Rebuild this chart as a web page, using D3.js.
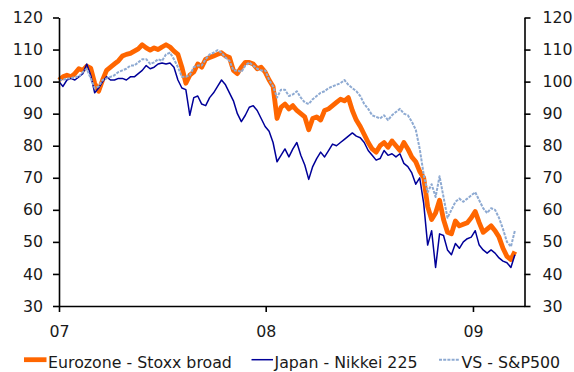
<!DOCTYPE html>
<html>
<head>
<meta charset="utf-8">
<script src="https://cdn.jsdelivr.net/npm/d3@7"></script>
<style>
  html, body { margin: 0; padding: 0; background: #fff; }
  svg { display: block; }
  text { font-family: "DejaVu Sans", Verdana, sans-serif; fill: #1a1a1a; }
</style>
</head>
<body>
<svg id="chart" width="574" height="372"></svg>
<script>
// Weekly index levels, first week of 2007 = 100
const firstWeek = new Date(2007, 0, 1);

const eurozone = [
  100.5, 101.5, 102, 101.5, 102.5, 104, 103.5, 104.8, 104.2, 99.5,
  97, 100.5, 103.5, 104.5, 105.5, 106.5, 108, 108.5, 108.8, 109.5,
  110.2, 111.5, 110.5, 109.8, 110.5, 110, 110.8, 111.5, 110.8, 109.5,
  108.5, 104.5, 99.5, 102, 103, 105.5, 104.5, 107, 107.5, 108,
  108.5, 109, 108, 107.5, 103.5, 102.5, 104.5, 106, 106, 105.5,
  104, 104.5, 103, 100.5, 98.5, 88.5, 92, 93, 91.5, 92.5,
  91, 90, 89, 85, 88.5, 89, 88, 91, 91.5, 92.5,
  93.5, 94.5, 94, 95, 91, 88, 86, 83.5, 81, 79,
  78, 80, 81, 79.5, 81.5, 80, 78.5, 81, 79, 76.5,
  75, 72, 70, 61, 57, 59, 63, 57, 53, 52.5,
  56.5, 55, 55.5, 56, 57.5, 59.5, 56, 53, 54, 55,
  53.5, 51.5, 48, 45.5, 44.5, 47
];

const japan = [
  100, 98.5, 100.5, 101, 100.5, 101.5, 102.5, 105.5, 102, 96.5,
  98, 100, 101.5, 100.5, 100.5, 101, 101, 100.5, 101.5, 101.5,
  102.5, 103.5, 105, 104, 104.5, 105.5, 105.8, 105.5, 105.8, 104.5,
  100.5, 98, 97.5, 89.5, 95, 95.5, 93, 92.5, 95, 96.5,
  98.5, 100.5, 99, 96.5, 94, 90, 87.5, 89.5, 92, 92.5,
  91, 88.5, 86, 84.5, 81, 75, 77, 79, 76.5, 79,
  81, 77, 74, 69.5, 73.5, 76, 78, 76.5, 78.5, 80.5,
  80, 81, 82, 83, 84, 83, 82.5, 81, 78.5, 77,
  75.5, 76, 78.5, 77, 77.5, 76.5, 77.5, 74.5, 73.5, 71.5,
  68, 70, 62, 49, 53.5, 42, 52.5, 52, 47.5, 46,
  49.5, 48, 50, 51, 51.5, 53.5, 49, 47.5, 46.5, 47.5,
  46.5, 45, 44, 43.5, 42, 46
];

const sp500 = [
  100.5, 100.5, 101, 101, 101.5, 101.5, 103, 104, 101, 98,
  98.5, 100.5, 101, 101.5, 102, 103, 103.5, 104, 105, 105,
  106, 107, 107, 105.5, 106, 107, 106.5, 108.5, 109, 107,
  104.5, 101.5, 101.5, 102, 104.5, 105, 105, 107, 108.5, 109,
  109.8, 109, 107.5, 106.5, 103.5, 103.5, 103, 105, 106, 105,
  104, 103.5, 103.5, 100.5, 98.5, 95, 97.5, 97.5, 95.5, 96,
  97, 95, 93.5, 93, 94.5, 95.5, 96.5, 97, 98, 98.5,
  99, 99.5, 100.5, 99, 98, 97, 95.5, 93, 91.5, 89.5,
  89, 88.5, 89.5, 88, 89.5, 90.5, 91.5, 90, 89.5, 87.5,
  85, 79, 71, 65.5, 68, 64, 70.5, 64, 57.5, 60,
  62.5, 63.5, 62.5, 63.5, 64.5, 65.5, 63, 60.5, 59, 60.5,
  60, 57.5, 54, 50, 48.5, 53.5
];

const seriesNames = ["Eurozone - Stoxx broad", "Japan - Nikkei 225", "VS - S&P500"];
const yTicks = [30, 40, 50, 60, 70, 80, 90, 100, 110, 120];
const xTickDates = [new Date(2007, 0, 1), new Date(2008, 0, 1), new Date(2009, 0, 1)];
const xTickLabels = ["07", "08", "09"];

const weeks = eurozone.map((_, i) => d3.timeDay.offset(firstWeek, 7 * i));

const svg = d3.select("#chart");
const plot = { left: 59, right: 524.5, top: 17.5, bottom: 306 };

const x = d3.scaleTime()
  .domain([new Date(2007, 0, 1), new Date(2009, 3, 2)])
  .range([plot.left, plot.right]);
const y = d3.scaleLinear().domain([30, 120]).range([plot.bottom, plot.top]);

const styles = [
  { color: "#ff6600", width: 4.8, dash: null },
  { color: "#000099", width: 1.5, dash: null },
  { color: "#8eaad2", width: 2, dash: "3,1.2" }
];
const allSeries = [eurozone, japan, sp500];

const line = d3.line()
  .x((d, i) => x(weeks[i]))
  .y(d => y(d))
  .curve(d3.curveLinear);

allSeries.forEach((vals, k) => {
  svg.append("path")
    .datum(vals)
    .attr("fill", "none")
    .attr("stroke", styles[k].color)
    .attr("stroke-width", styles[k].width)
    .attr("stroke-linejoin", "round")
    .attr("stroke-dasharray", styles[k].dash)
    .attr("d", line);
});

// Axes
const fontSize = "15.8px";
const leftAxis = d3.axisLeft(y).tickValues(yTicks).tickSize(6).tickPadding(10);
const rightAxis = d3.axisRight(y).tickValues(yTicks).tickSize(6).tickPadding(12);
const bottomAxis = d3.axisBottom(x).tickValues(xTickDates).tickSize(6)
  .tickFormat((d, i) => xTickLabels[i]).tickPadding(14);

function styleAxis(g) {
  g.select(".domain").attr("stroke", "#000").attr("stroke-width", 1.6);
  g.selectAll(".tick line").attr("stroke", "#000").attr("stroke-width", 1.6);
  g.selectAll("text").attr("font-size", fontSize)
    .attr("font-family", "DejaVu Sans, Verdana, sans-serif").attr("fill", "#1a1a1a");
}

svg.append("g").attr("transform", `translate(${plot.left},0)`)
  .call(leftAxis.tickSizeOuter(0)).call(styleAxis);
svg.append("g").attr("transform", `translate(${plot.right},0)`)
  .call(rightAxis.tickSizeOuter(0)).call(styleAxis);
svg.append("g").attr("transform", `translate(0,${plot.bottom})`)
  .call(bottomAxis.tickSizeOuter(0)).call(styleAxis);

// Legend
const legendItems = [
  { x: 24, len: 22.5 },
  { x: 251.5, len: 21.5 },
  { x: 439, len: 21 }
];
const legend = svg.append("g");
legendItems.forEach((it, k) => {
  legend.append("line")
    .attr("x1", it.x).attr("x2", it.x + it.len)
    .attr("y1", 359.7).attr("y2", 359.7)
    .attr("stroke", styles[k].color)
    .attr("stroke-width", styles[k].width)
    .attr("stroke-dasharray", styles[k].dash);
  legend.append("text")
    .attr("x", it.x + it.len + 1.5)
    .attr("y", 368)
    .attr("font-size", fontSize)
    .text(seriesNames[k]);
});
</script>
</body>
</html>
